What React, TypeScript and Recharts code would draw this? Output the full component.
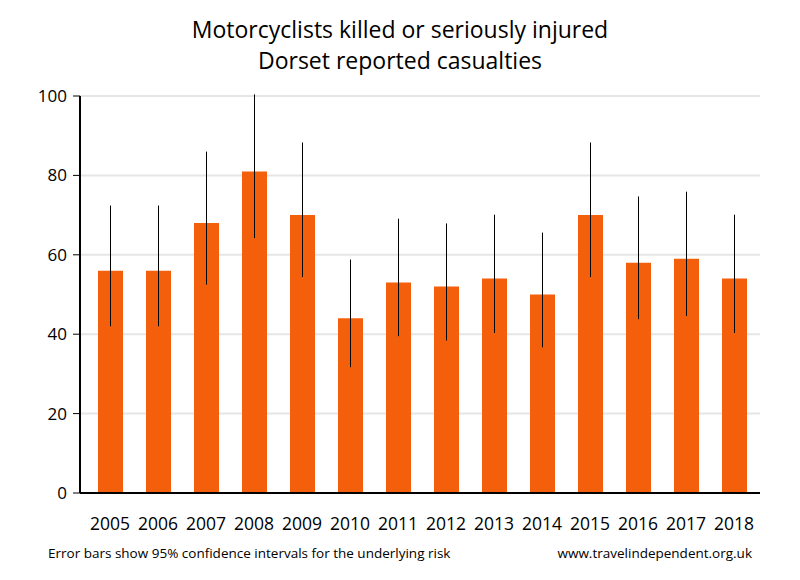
import React from 'react';
import { BarChart, Bar, XAxis, YAxis, CartesianGrid, ErrorBar } from 'recharts';

const years = ['2005','2006','2007','2008','2009','2010','2011','2012','2013','2014','2015','2016','2017','2018'];
const casualties = [56, 56, 68, 81, 70, 44, 53, 52, 54, 50, 70, 58, 59, 54];
const lowerCI = [42.0, 42.0, 52.5, 64.2, 54.4, 31.7, 39.5, 38.4, 40.3, 36.7, 54.4, 43.8, 44.6, 40.3];
const upperCI = [72.4, 72.4, 86.0, 100.4, 88.3, 58.8, 69.1, 67.9, 70.1, 65.6, 88.3, 74.7, 75.9, 70.1];
const yTicks = [0, 20, 40, 60, 80, 100];

const data = years.map((y, i) => ({
  year: y,
  value: casualties[i],
  err: [casualties[i] - lowerCI[i], upperCI[i] - casualties[i]],
}));

const FONT = '"Open Sans", "Noto Sans", sans-serif';

export default function App() {
  return (
    <div style={{ position: 'absolute', left: 0, top: 0, width: 800, height: 580, background: '#fff', fontFamily: FONT }}>
      <div style={{ position: 'absolute', left: 0, top: 14, width: 800, textAlign: 'center', fontSize: 23, lineHeight: '31px', color: '#000' }}>
        <div>Motorcyclists killed or seriously injured</div>
        <div>Dorset reported casualties</div>
      </div>
      <BarChart
        width={800}
        height={580}
        data={data}
        margin={{ top: 96, right: 40, bottom: 47, left: 20 }}
        barCategoryGap={0}
      >
        <CartesianGrid vertical={false} stroke="#e6e6e6" strokeWidth={2} />
        <XAxis
          dataKey="year"
          axisLine={{ stroke: '#000', strokeWidth: 2 }}
          tickLine={false}
          tickMargin={19}
          height={40}
          padding={{ left: 6, right: 2 }}
          tick={{ fill: '#000', fontSize: 17.5, fontFamily: FONT }}
          interval={0}
        />
        <YAxis
          domain={[0, 100]}
          ticks={yTicks}
          width={60}
          axisLine={{ stroke: '#000', strokeWidth: 2 }}
          tickLine={{ stroke: '#000', strokeWidth: 1 }}
          tickSize={7}
          tickMargin={6}
          allowDataOverflow
          tick={{ fill: '#000', fontSize: 17, fontFamily: FONT }}
        />
        <Bar dataKey="value" fill="#F45F0C" barSize={25} isAnimationActive={false}>
          <ErrorBar dataKey="err" width={0} stroke="#000" strokeWidth={1} direction="y" />
        </Bar>
      </BarChart>
      <div style={{ position: 'absolute', left: 48, top: 544, fontSize: 13.5, color: '#000' }}>
        Error bars show 95% confidence intervals for the underlying risk
      </div>
      <div style={{ position: 'absolute', right: 48, top: 544, fontSize: 13.5, color: '#000' }}>
        www.travelindependent.org.uk
      </div>
    </div>
  );
}
